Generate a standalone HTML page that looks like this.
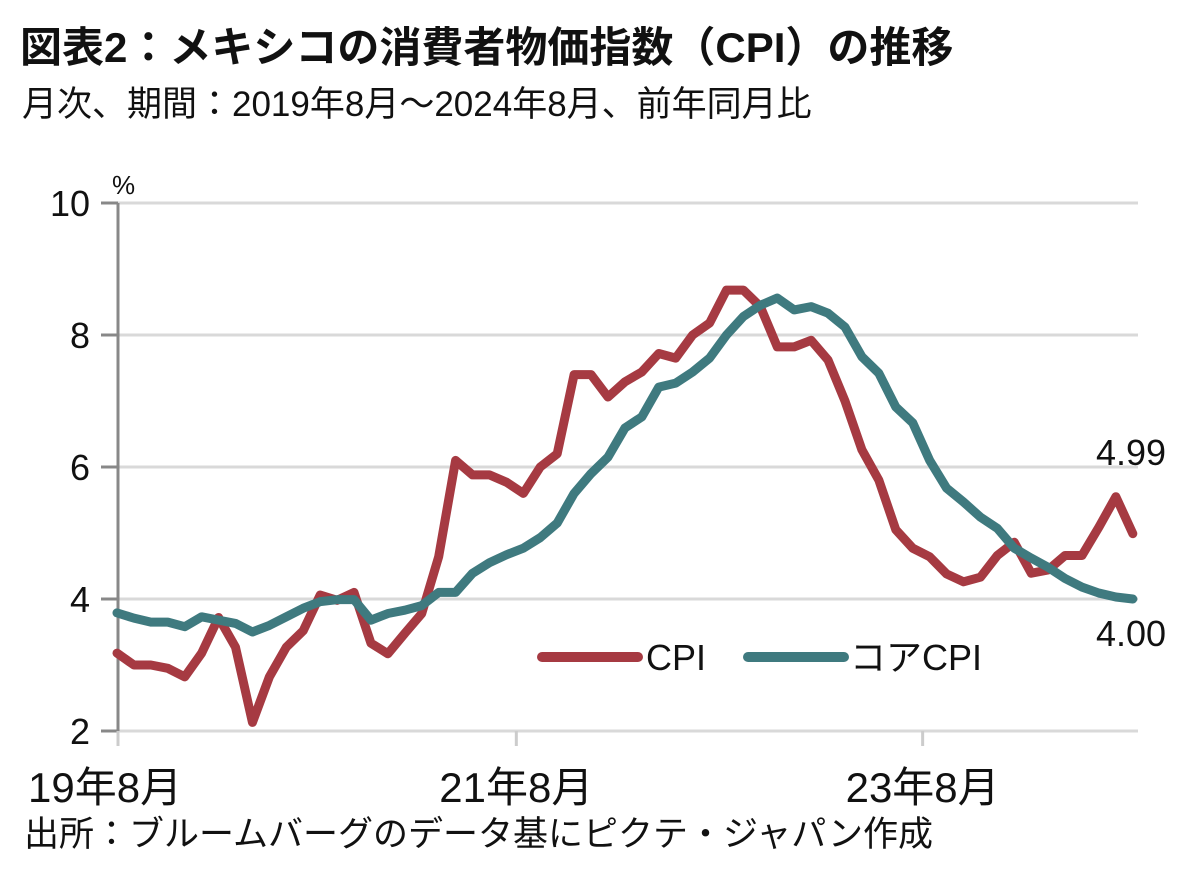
<!DOCTYPE html>
<html><head><meta charset="utf-8"><style>
body{margin:0;background:#fff;width:1200px;height:867px;overflow:hidden;font-family:"Liberation Sans","Noto Sans CJK JP",sans-serif;}
svg text{font-family:"Liberation Sans","Noto Sans CJK JP",sans-serif;fill:#111;}
</style></head><body>
<svg width="1200" height="867">
<text x="20" y="62" font-size="42" font-weight="bold">図表2：メキシコの消費者物価指数（CPI）の推移</text>
<text x="22" y="116" font-size="35">月次、期間：2019年8月～2024年8月、前年同月比</text>
<text x="112" y="194" font-size="26">%</text>
<g id="grid"></g><g id="axes"></g><g id="series"></g>
<g>
<line x1="542" y1="657" x2="638" y2="657" stroke="#a63a42" stroke-width="10" stroke-linecap="round"/>
<text x="646" y="670" font-size="36">CPI</text>
<line x1="748" y1="657" x2="844" y2="657" stroke="#3f7a7f" stroke-width="10" stroke-linecap="round"/>
<text x="850" y="670" font-size="36">コアCPI</text>
</g>
<text x="1096" y="465" font-size="36">4.99</text>
<text x="1096" y="646" font-size="36">4.00</text>
<text x="24" y="846" font-size="35">出所：ブルームバーグのデータ基にピクテ・ジャパン作成</text>
</svg>
<script>
const cpi=[3.18,3.0,3.0,2.95,2.82,3.18,3.72,3.27,2.13,2.82,3.27,3.52,4.06,3.98,4.1,3.33,3.17,3.48,3.78,4.64,6.1,5.88,5.88,5.77,5.6,6.0,6.2,7.4,7.4,7.06,7.29,7.44,7.72,7.65,8.0,8.18,8.68,8.68,8.43,7.82,7.82,7.92,7.62,7.0,6.26,5.8,5.05,4.77,4.64,4.38,4.26,4.33,4.66,4.86,4.39,4.44,4.66,4.66,5.09,5.55,4.99];
const core=[3.79,3.71,3.65,3.65,3.58,3.73,3.68,3.63,3.5,3.6,3.73,3.86,3.96,3.99,3.99,3.68,3.78,3.83,3.9,4.1,4.1,4.39,4.55,4.67,4.77,4.93,5.15,5.6,5.9,6.15,6.59,6.76,7.21,7.27,7.44,7.65,8.0,8.28,8.45,8.56,8.38,8.43,8.33,8.12,7.67,7.42,6.91,6.67,6.1,5.68,5.47,5.24,5.07,4.77,4.62,4.48,4.31,4.18,4.09,4.03,4.0];
const yTicks=[2,4,6,8,10];
const xTickIdx=[0,24,48];
const xTickLabels=["19年8月","21年8月","23年8月"];
const NS="http://www.w3.org/2000/svg";
const X0=117,DX=16.93,PL=118,PR=1138;
const x=i=>X0+i*DX, y=v=>731-66*(v-2);
function mk(t,a,p){const e=document.createElementNS(NS,t);for(const k in a)e.setAttribute(k,a[k]);p.appendChild(e);return e;}
const grid=document.getElementById('grid'),axes=document.getElementById('axes'),ser=document.getElementById('series');
yTicks.forEach(v=>{
 const l=mk('line',{x1:PL,x2:PR,y1:y(v),y2:y(v),stroke:'#d9d9d9','stroke-width':3},grid);
 
 
 const tm=mk('line',{x1:101,x2:118,y1:y(v),y2:y(v),stroke:'#888','stroke-width':3},axes);
 
 
 const t=mk('text',{x:90,y:y(v)+13,'font-size':36,'text-anchor':'end'},axes);
 t.textContent=v;
 
 
});
const ax=mk('line',{x1:PL,x2:PL,y1:203,y2:741,stroke:'#888','stroke-width':3},axes);


xTickIdx.forEach((ix,k)=>{
 const xx=ix===0?PL:x(ix)-7;
 const tm=mk('line',{x1:xx,x2:xx,y1:731,y2:746,stroke:'#ccc','stroke-width':3},axes);
 
 
 const t=mk('text',{x:xx,y:802,'font-size':42,'text-anchor':ix===0?'start':'middle'},axes);
 if(ix===0)t.setAttribute('x',28);
 t.textContent=xTickLabels[k];
 
 
});
function line(d,c,n){
 const p=mk('polyline',{points:d.map((v,i)=>x(i)+','+y(v)).join(' '),fill:'none',stroke:c,'stroke-width':9,'stroke-linejoin':'round','stroke-linecap':'round'},ser);
 
 
}
line(cpi,'#a63a42','cpi-line');
line(core,'#3f7a7f','core-cpi-line');
</script>
</body></html>
